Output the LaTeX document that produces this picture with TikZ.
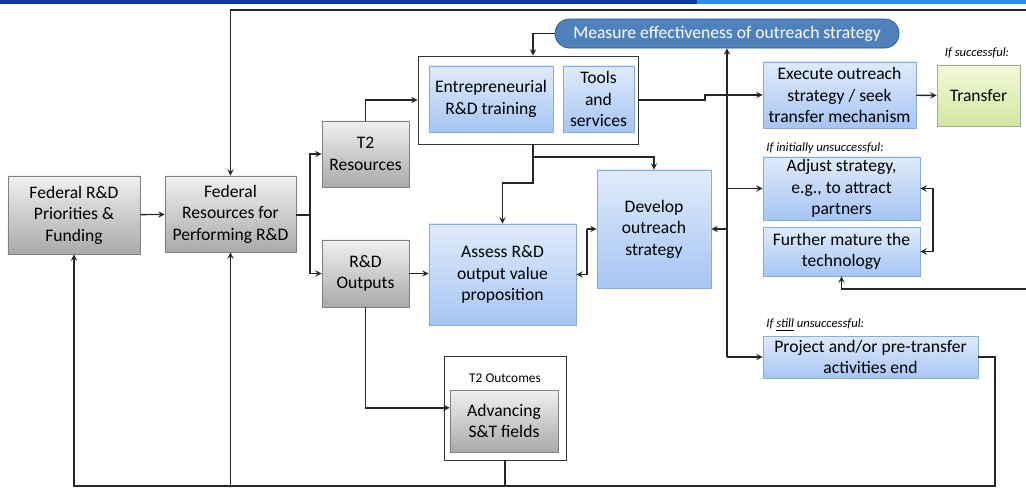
\documentclass[tikz,border=0pt]{standalone}
\usepackage{fontspec}
\setmainfont{Carlito}
\definecolor{grayTop}{HTML}{F0F0F0}
\definecolor{grayBot}{HTML}{A9A9A9}
\definecolor{grayLine}{HTML}{808080}
\definecolor{blueTop}{HTML}{DFEBFB}
\definecolor{blueBot}{HTML}{A6C5F3}
\definecolor{blueLine}{HTML}{86ACDD}
\definecolor{measFill}{HTML}{4F81BD}
\definecolor{measLine}{HTML}{2C5A8E}
\definecolor{grnTop}{HTML}{F3F9DA}
\definecolor{grnBot}{HTML}{D2E69E}
\definecolor{barDark}{HTML}{0B3DA6}
\definecolor{barLight}{HTML}{2B8CEF}
\begin{document}
\begin{tikzpicture}[x=0.025cm, y=-0.025cm, >=stealth, line join=miter,
	every node/.style={align=center, font=\fontsize{12.5}{15.3}\selectfont, inner sep=1pt, line width=0.5pt},
	graybox/.style={draw=grayLine, top color=grayTop, bottom color=grayBot},
	bluebox/.style={draw=blueLine, top color=blueTop, bottom color=blueBot},
	framebox/.style={draw=black!80, fill=white},
	note/.style={font=\fontsize{9}{10}\selectfont\itshape, inner sep=0pt},
	link/.style={line width=1pt, black!85}]

	% frame of the picture
	\useasboundingbox (0,0) rectangle (1026,489);
	\fill[barDark] (0,0) rectangle (697,3.5);
	\fill[barLight] (697,0) rectangle (1026,3.5);

	% left column
	\node[graybox, minimum width=3.3cm, minimum height=1.95cm] (fund) at (74,215) {Federal R\&D\\Priorities \&\\Funding};
	\node[graybox, minimum width=3.275cm, minimum height=1.9cm] (res) at (230.5,214) {Federal\\Resources for\\Performing R\&D};
	\node[graybox, minimum width=2.175cm, minimum height=1.65cm] (t2res) at (365.5,154) {T2\\Resources};
	\node[graybox, minimum width=2.175cm, minimum height=1.675cm] (outp) at (365.5,273.5) {R\&D\\Outputs};

	% T2 resources group
	\node[framebox, minimum width=5.5cm, minimum height=2.2cm] (cont) at (528,100) {};
	\node[bluebox, minimum width=3.1cm, minimum height=1.65cm] (train) at (491,99) {Entrepreneurial\\R\&D training};
	\node[bluebox, minimum width=1.775cm, minimum height=1.65cm] (tools) at (598.5,99) {Tools\\and\\services};

	% T2 outcomes group
	\node[framebox, minimum width=3.05cm, minimum height=2.6cm] (outc) at (505,408) {};
	\node[font=\fontsize{9.5}{11}\selectfont, inner sep=0pt] (outclbl) at (505,378) {T2 Outcomes};
	\node[graybox, minimum width=2.7cm, minimum height=1.55cm] (adv) at (504,421) {Advancing\\S\&T fields};

	% middle
	\node[draw=measLine, fill=measFill, text=white, rounded corners=0.36cm, minimum width=8.6cm, minimum height=0.725cm] (meas) at (727,33.5) {Measure effectiveness of outreach strategy};
	\node[bluebox, minimum width=3.675cm, minimum height=2.525cm] (assess) at (502.5,274.5) {Assess R\&D\\output value\\proposition};
	\node[bluebox, minimum width=2.85cm, minimum height=2.95cm] (dev) at (654,229) {Develop\\outreach\\strategy};

	% right column
	\node[bluebox, minimum width=3.825cm, minimum height=1.65cm] (exec) at (839.5,95) {Execute outreach\\strategy / seek\\transfer mechanism};
	\node[draw=grayLine!70, top color=grnTop, bottom color=grnBot, minimum width=2.075cm, minimum height=1.525cm] (trans) at (978.5,95.5) {Transfer};
	\node[bluebox, minimum width=3.925cm, minimum height=1.575cm] (adjust) at (841.5,188.5) {Adjust strategy,\\e.g., to attract\\partners};
	\node[bluebox, minimum width=3.925cm, minimum height=1.225cm] (mature) at (841.5,251.5) {Further mature the\\technology};
	\node[bluebox, minimum width=5.375cm, minimum height=1.05cm] (proj) at (870.5,357) {Project and/or pre-transfer\\activities end};

	% notes
	\node[note] (succ) at (977,53) {If successful:};
	\node[note, anchor=west] (init) at (766,148) {If initially unsuccessful:};
	\node[note, anchor=west] (still) at (766,325) {If \underline{still} unsuccessful:};

	% junction points
	\coordinate (topR) at (1026,10);
	\coordinate (fork) at (310,215);
	\coordinate (j1) at (533,157);
	\coordinate (j2) at (533,183);
	\coordinate (j3) at (587,229);
	\coordinate (jog) at (705,100);
	\coordinate (trunk) at (727,357);
	\coordinate (j4) at (933,220);
	\coordinate (rightR) at (1026,289);
	\coordinate (br) at (995,486);

	% connectors
	\draw[link, ->] (fund) -- (res);
	\draw[link, ->] (topR) -| (res.north);
	\draw[link] (res.east |- fork) -- (fork);
	\draw[link, ->] (fork) |- (t2res);
	\draw[link, ->] (fork) |- (outp);
	\draw[link, ->] (t2res.north) |- (cont.west);
	\draw[link, ->] (outp) -- (outp -| assess.west);
	\draw[link, ->] (outp.south) |- ([yshift=0.33cm]adv.west);
	\draw[link, ->] (meas.west) -| (cont.north -| j1);
	\draw[link, ->] (cont.south -| j1) -- (j2) -| (assess.north);
	\draw[link, ->] (j1) -| (dev.north);
	\draw[link, ->] (j3) -- (dev.west);
	\draw[link, ->] (j3) |- (assess.east);
	\draw[link, ->] (cont.east) -- (jog) |- (exec.west);
	\draw[link, ->] (trunk) -- (meas.south);
	\draw[link, ->] (trunk) -- (proj.west);
	\draw[link, ->] (trunk |- adjust.west) -- (adjust.west);
	\draw[link, ->] (trunk |- dev.east) -- (dev.east);
	\draw[link, ->] (exec) -- (trans);
	\draw[link, ->] (j4) |- (adjust.east);
	\draw[link, ->] (j4) |- (mature.east);
	\draw[link, ->] (rightR) -| (mature.south);
	\draw[link, ->] (proj.east) -| (br) -| (fund.south);
	\draw[link, ->] (res.south |- br) -- (res.south);
	\draw[link] (outc.south) -- (outc.south |- br);
\end{tikzpicture}
\end{document}
